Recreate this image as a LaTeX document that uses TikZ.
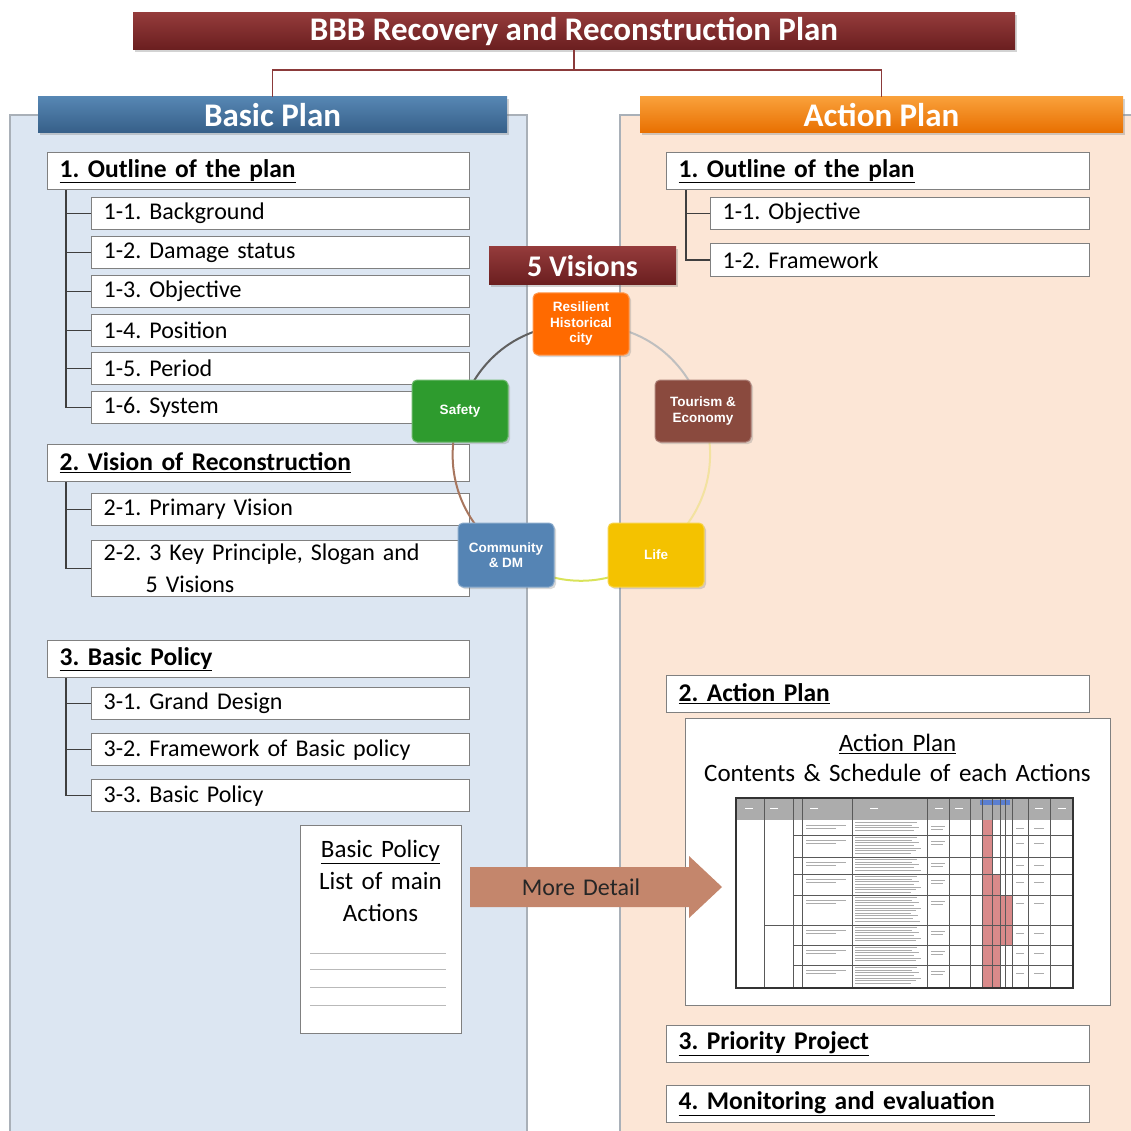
\documentclass[tikz,border=0pt]{standalone}
\usepackage{fontspec}
\setmainfont{Carlito}[WordSpace=1.5]
\newfontfamily\barfont{Carlito}
\newfontfamily\arialf{Liberation Sans}
\usetikzlibrary{shadows,calc}
\definecolor{titlered}{HTML}{7B2626}
\definecolor{titletop}{HTML}{943B3B}
\definecolor{titlebot}{HTML}{6A1E1F}
\definecolor{bluetop}{HTML}{5686B3}
\definecolor{bluebot}{HTML}{365F88}
\definecolor{orgtop}{HTML}{F9A03A}
\definecolor{orgbot}{HTML}{E86F00}
\definecolor{leftpanel}{HTML}{DCE6F2}
\definecolor{rightpanel}{HTML}{FCE6D6}
\definecolor{panelline}{HTML}{A9B0B8}
\definecolor{boxgray}{HTML}{808080}
\definecolor{treec}{HTML}{3F3F3F}
\definecolor{connc}{HTML}{8B3A3A}
\definecolor{vorange}{HTML}{FF6A00}
\definecolor{vgreen}{HTML}{2E9B2E}
\definecolor{vbrown}{HTML}{8A4A3E}
\definecolor{vblue}{HTML}{5584B4}
\definecolor{vyellow}{HTML}{F4C200}
\definecolor{arrowc}{HTML}{C4866C}
\definecolor{pinkbar}{HTML}{D98A8A}
\definecolor{schedblue}{HTML}{5B7FD0}
\definecolor{arcyel}{HTML}{F3E2A0}
\definecolor{arcgrn}{HTML}{D9E35A}
\definecolor{arcbrn}{HTML}{A8765E}
\frenchspacing
\begin{document}
\begin{tikzpicture}[x=1pt,y=-1pt,
  box/.style={draw=boxgray, line width=1.2pt, fill=white, anchor=north west, inner xsep=12pt, inner ysep=0pt, align=left},
  hdr/.style={box, font=\fontsize{25.5}{29}\selectfont\bfseries, minimum width=422pt, text width=398pt, minimum height=37pt},
  subb/.style={box, font=\fontsize{24}{28}\selectfont, minimum width=378pt, text width=354pt, minimum height=32pt},
  bar/.style={text=white, font=\barfont\fontsize{33}{38}\selectfont\bfseries, inner sep=0pt, drop shadow={opacity=0.35,shadow xshift=2pt,shadow yshift=-2pt}},
  tree/.style={draw=treec, line width=1.5pt},
  conn/.style={draw=connc, line width=1.5pt},
  vis/.style={rounded corners=5pt, minimum width=96pt, minimum height=62pt, text=white, font=\arialf\bfseries\fontsize{13.5}{15.5}\selectfont, align=center, draw=#1!70!white, fill=#1, line width=1pt, inner sep=2pt, drop shadow={opacity=0.3,shadow xshift=2pt,shadow yshift=-2pt}},
  arc/.style={line width=2pt},
  tl/.style={draw=gray!65, line width=0.8pt}
]
\useasboundingbox (0,0) rectangle (1131,1131);
% panels
\fill[leftpanel] (10,115) rectangle (527,1131);
\draw[panelline, line width=1.2pt] (10,1131) -- (10,115) -- (527,115) -- (527,1131);
\fill[rightpanel] (620,115) rectangle (1131,1131);
\draw[panelline, line width=1.2pt] (620,1131) -- (620,115) -- (1131,115);

% title and plans
\node[bar, top color=titletop, bottom color=titlebot, minimum width=882pt, minimum height=37pt] (title) at (574,31.5) {BBB Recovery and Reconstruction Plan};
\node[bar, top color=bluetop, bottom color=bluebot, minimum width=469pt, minimum height=36pt] (basic) at (272.5,115) {Basic Plan};
\node[bar, top color=orgtop, bottom color=orgbot, minimum width=483pt, minimum height=36pt] (action) at (881.5,115) {Action Plan};
\draw[conn] (title.south) -- ++(0,20) -| (basic.north);
\draw[conn] (title.south) -- ++(0,20) -| (action.north);

% left section 1
\node[hdr] (o1) at (47,152) {\underline{1. Outline of the plan}};
\node[subb] (s11) at (91,197) {1-1. Background};
\node[subb] (s12) at (91,236) {1-2. Damage status};
\node[subb] (s13) at (91,275) {1-3. Objective};
\node[subb] (s14) at (91,314) {1-4. Position};
\node[subb] (s15) at (91,352) {1-5. Period};
\node[subb] (s16) at (91,391) {1-6. System};
\coordinate (t1) at ([xshift=19pt]o1.south west);
\draw[tree] (t1) |- (s16.west);
\foreach \s in {s11,s12,s13,s14,s15} \draw[tree] (\s.west) -- (\s.west -| t1);

% left section 2
\node[hdr] (o2) at (47,444) {\underline{2. Vision of Reconstruction}};
\node[subb] (s21) at (91,493) {2-1. Primary Vision};
\node[subb, minimum height=56pt, font=\fontsize{24}{32}\selectfont] (s22) at (91,540) {2-2. 3 Key Principle, Slogan and\\\hspace*{42pt}5 Visions};
\coordinate (t2) at ([xshift=19pt]o2.south west);
\draw[tree] (t2) |- (s22.west);
\draw[tree] (s21.west) -- (s21.west -| t2);

% left section 3
\node[hdr] (o3) at (47,640) {\underline{3. Basic Policy}};
\node[subb] (s31) at (91,687) {3-1. Grand Design};
\node[subb] (s32) at (91,733) {3-2. Framework of Basic policy};
\node[subb] (s33) at (91,779) {3-3. Basic Policy};
\coordinate (t3) at ([xshift=19pt]o3.south west);
\draw[tree] (t3) |- (s33.west);
\foreach \s in {s31,s32} \draw[tree] (\s.west) -- (\s.west -| t3);

% basic policy document
\node[draw=boxgray, fill=white, line width=1.2pt, minimum width=161pt, minimum height=208pt, anchor=north west, inner sep=0pt] (doc) at (300,825) {};
\node[font=\fontsize{25}{32}\selectfont, align=center] (doctext) at (380.5,881) {\underline{Basic Policy}\\List of main\\Actions};
\foreach \yy in {953,969,987,1005} \draw[gray!55, line width=1pt] (310,\yy) -- (446,\yy);

% right section 1
\node[hdr, minimum width=423pt, text width=399pt] (r1) at (666,152) {\underline{1. Outline of the plan}};
\node[subb, minimum width=379pt, text width=355pt] (r11) at (710,197) {1-1. Objective};
\node[subb, minimum width=379pt, text width=355pt, minimum height=33pt] (r12) at (710,243) {1-2. Framework};
\coordinate (rt) at ([xshift=20pt]r1.south west);
\draw[tree] (rt) |- (r12.west);
\draw[tree] (r11.west) -- (r11.west -| rt);

% right sections 2-4
\node[hdr, minimum width=423pt, text width=399pt] (r2) at (666,675) {\underline{2. Action Plan}};
\node[hdr, minimum width=423pt, text width=399pt] (r3) at (666,1025) {\underline{3. Priority Project}};
\node[hdr, minimum width=423pt, text width=399pt] (r4) at (666,1085) {\underline{4. Monitoring and evaluation}};

% action plan box
\node[draw=boxgray, fill=white, line width=1.2pt, minimum width=425pt, minimum height=287pt, anchor=north west, inner sep=0pt] (apbox) at (685,718) {};
\node[font=\fontsize{25}{30}\selectfont, align=center] (aptext) at (897.5,758) {\underline{Action Plan}\\Contents \& Schedule of each Actions};

% more detail arrow
\fill[arrowc] (470,867) -- (689,867) -- (689,856) -- (722,887) -- (689,918) -- (689,907) -- (470,907) -- cycle;
\node[font=\fontsize{24}{28}\selectfont, text=black!85] (more) at (581,887) {More Detail};

% schedule table
\fill[white] (736,798) rectangle (1073,988);
\fill[gray!65] (736,798) rectangle (1073,820);
\fill[schedblue] (980,800) rectangle (1010,805);
\fill[pinkbar] (982,820) rectangle (992,988);
\fill[pinkbar] (992,874) rectangle (1000,988);
\fill[pinkbar] (1000,895) rectangle (1012,945);
\foreach \xx in {764,793,802,852,927,949,970,982,992,1000,1005,1012,1028,1050}
  \draw[gray!70!black, line width=0.7pt] (\xx,798) -- (\xx,988);
\foreach \yy in {835,857,874,895,925,945,965}
  \draw[gray!70!black, line width=0.7pt] (793,\yy) -- (1073,\yy);
\draw[gray!70!black, line width=0.7pt] (764,925) -- (793,925);
\foreach \ya/\n in {820/4,835/7,857/5,874/7,895/10,925/6,945/6,965/7}{
  \foreach \k in {1,...,\n} \draw[tl] (855,{\ya+\k*2.6}) -- ++({55+mod(\k*7,12)},0);
  \draw[tl] (806,{\ya+5}) -- ++(40,0);
  \draw[tl] (806,{\ya+8}) -- ++(30,0);
  \draw[tl] (931,{\ya+6}) -- ++(14,0);
  \draw[tl] (931,{\ya+9}) -- ++(12,0);
  \draw[tl] (1016,{\ya+8}) -- ++(8,0);
  \draw[tl] (1034,{\ya+8}) -- ++(10,0);
}
\foreach \xx in {745,770,810,870,935,955,1035,1058} \draw[white, line width=0.8pt] (\xx,808) -- ++(8,0);
\draw[gray!40!black, line width=2pt] (736,798) rectangle (1073,988);

% 5 visions
\node[bar, top color=titletop, bottom color=titlebot, minimum width=187pt, minimum height=38pt, font=\barfont\fontsize{30}{34}\selectfont\bfseries] (fv) at (582.5,266) {5 Visions};
\coordinate (cR) at (581,324);
\coordinate (cS) at (460,411);
\coordinate (cT) at (703,411);
\coordinate (cC) at (506,555);
\coordinate (cL) at (656,555);
\draw[arc, draw=gray!75!black] (cS) to[bend left=36] (cR);
\draw[arc, draw=gray!50] (cR) to[bend left=36] (cT);
\draw[arc, draw=arcyel] (cT) to[bend left=36] (cL);
\draw[arc, draw=arcgrn] (cL) to[bend left=36] (cC);
\draw[arc, draw=arcbrn] (cC) to[bend left=36] (cS);
\node[vis=vorange] (res) at (cR) {Resilient\\Historical\\city};
\node[vis=vgreen] (saf) at (cS) {Safety};
\node[vis=vbrown] (tou) at (cT) {Tourism \&\\Economy};
\node[vis=vblue, minimum height=64pt] (com) at (cC) {Community\\\& DM};
\node[vis=vyellow, minimum height=64pt] (lif) at (cL) {Life};
\end{tikzpicture}
\end{document}
